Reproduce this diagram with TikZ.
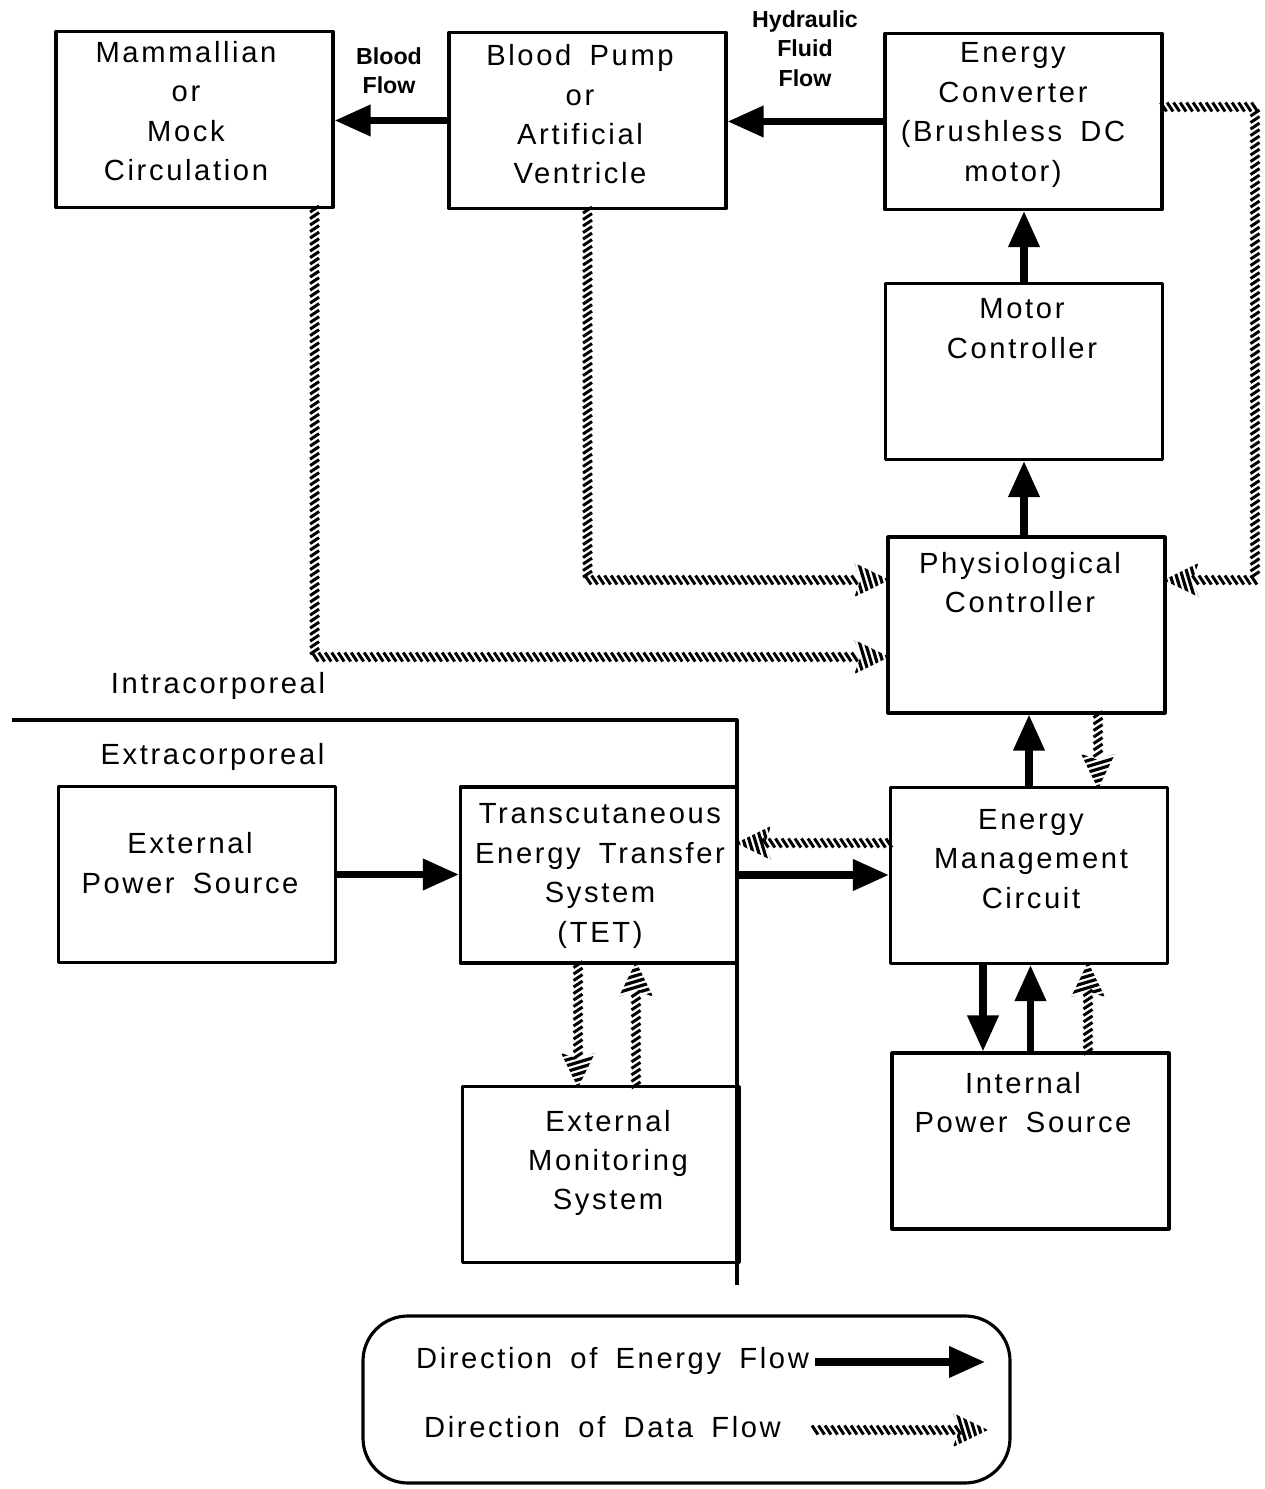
\documentclass[tikz,border=0pt]{standalone}
\usepackage{fontspec}
\setmainfont{Liberation Sans}[LetterSpace=9,WordSpace=1.7]
\newfontfamily\tagfont{Liberation Sans}
\usetikzlibrary{arrows.meta,decorations.markings}

\newcommand{\datahead}{%
  \begin{scope}
    \clip (0.03,0) -- (-0.32,0.17) -- (-0.26,0) -- (-0.32,-0.17) -- cycle;
    \foreach \k in {0,...,9}
      \draw[line width=0.9pt] (-0.46+\k*0.058,0.2) -- (-0.34+\k*0.058,-0.2);
  \end{scope}}

\tikzset{
  box/.style={draw,line width=0.9pt,minimum width=2.77cm,
    minimum height=1.76cm,inner sep=0pt},
  txt/.style={align=center,font=\fontsize{8.3}{11.2}\selectfont},
  tag/.style={align=center,font=\tagfont\bfseries\fontsize{6.6}{8.4}\selectfont},
  energy/.style={line width=2pt,-{Triangle[length=3.6mm,width=3mm]}},
  data/.style={decorate,decoration={markings,
      mark=between positions 0 and -0.26cm step 0.065cm with
        {\draw[line width=0.85pt] (-0.03,0.045) -- (0.03,-0.045);},
      mark=at position 1 with {\datahead}}}
}

\begin{document}
\begin{tikzpicture}[x=1cm,y=1cm,line join=round]
        \useasboundingbox (0,0) rectangle (12.65,14.89);

        % Bloques del sistema
        \node[box] (mock)  at (1.945,13.695) {};
        \node[box] (pump)  at (5.875,13.685) {};
        \node[box] (conv)  at (10.235,13.675) {};
        \node[box] (motor) at (10.24,11.175) {};
        \node[box] (phys)  at (10.265,8.64) {};
        \node[box] (emc)   at (10.29,6.135) {};
        \node[box] (intps) at (10.305,3.48) {};
        \node[box] (extps) at (1.97,6.145) {};
        \node[box] (tet)   at (5.99,6.14) {};
        \node[box] (mon)   at (6.01,3.145) {};

        % Textos de los bloques
        \node[txt] (tMock) at (1.86,13.78) {Mammallian\\or\\Mock\\Circulation};
        \node[txt] (tPump) at (5.80,13.745) {Blood Pump\\or\\Artificial\\Ventricle};
        \node[txt] (tConv) at (10.13,13.74)
            {Energy\\Converter\\(Brushless DC\\motor)};
        \node[txt] (tMotor) at (10.22,11.605) {Motor\\Controller};
        \node[txt] (tPhys) at (10.20,9.065) {Physiological\\Controller};
        \node[txt] (tEmc) at (10.31,6.30) {Energy\\Management\\Circuit};
        \node[txt] (tIntps) at (10.23,3.865) {Internal\\Power Source};
        \node[txt] (tExtps) at (1.90,6.26) {External\\Power Source};
        \node[txt] (tTet) at (6.00,6.13)
            {Transcutaneous\\Energy Transfer\\System\\(TET)};
        \node[txt] (tMon) at (6.08,3.26) {External\\Monitoring\\System};

        % Etiquetas de flujo y zonas
        \node[tag] (tBlood) at (3.89,14.185) {Blood\\Flow};
        \node[tag] (tFluid) at (8.05,14.405) {Hydraulic\\Fluid\\Flow};
        \node[txt] (tIntra) at (2.18,8.03) {Intracorporeal};
        \node[txt] (tExtra) at (2.125,7.32) {Extracorporeal};

        % Frontera intra/extracorporea
        \coordinate (bndL) at (0.12,7.69);
        \coordinate (bndC) at (7.37,7.69);
        \coordinate (bndB) at (7.37,2.04);
        \draw[line width=0.9pt] (bndL) -- (bndC) -- (bndB);

        % Flujo de energia
        \draw[energy] (pump.west) -- (pump.west -| mock.east);
        \draw[energy] (conv.west) -- (conv.west -| pump.east);
        \draw[energy] (motor.north) -- (motor.north |- conv.south);
        \draw[energy] (phys.north -| motor.south) -- (motor.south);
        \draw[energy] (emc.north) -- (emc.north |- phys.south);
        \draw[energy] (extps.east) -- (extps.east -| tet.west);
        \draw[energy] (tet.east) -- (tet.east -| emc.west);
        \draw[energy] ([xshift=-0.46cm]emc.south)
            -- ([xshift=-0.46cm]emc.south |- intps.north);
        \draw[energy] (intps.north) -- (intps.north |- emc.south);

        % Flujo de datos
        \coordinate (loopR) at (12.55,9.09);
        \path[data] (pump.south) |- ([yshift=0.45cm]phys.west);
        \path[data] ([xshift=-0.2cm]mock.south east)
            |- ([yshift=-0.32cm]phys.west);
        \path[data] ([yshift=0.145cm]conv.east) -| (loopR)
            -- ([yshift=0.45cm]phys.east);
        \path[data] ([xshift=0.715cm]phys.south)
            -- ([xshift=0.715cm]phys.south |- emc.north);
        \path[data] ([yshift=0.325cm]emc.west)
            -- ([yshift=0.325cm]emc.west -| tet.east);
        \path[data] ([xshift=-0.21cm]tet.south)
            -- ([xshift=-0.21cm]tet.south |- mon.north);
        \path[data] ([xshift=0.35cm]mon.north)
            -- ([xshift=0.35cm]mon.north |- tet.south);
        \path[data] ([xshift=0.575cm]intps.north)
            -- ([xshift=0.575cm]intps.north |- emc.south);

        % Leyenda
        \node[draw,line width=0.9pt,rounded corners=0.45cm,minimum width=6.47cm,
            minimum height=1.67cm] (legend) at (6.865,0.895) {};
        \node[txt] (tEnergy) at (6.125,1.28) {Direction of Energy Flow};
        \node[txt] (tData) at (6.025,0.62) {Direction of Data Flow};
        \coordinate (eS) at (8.15,1.27);
        \coordinate (eE) at (9.85,1.27);
        \coordinate (dS) at (8.15,0.59);
        \coordinate (dE) at (9.85,0.59);
        \draw[energy] (eS) -- (eE);
        \path[data] (dS) -- (dE);
\end{tikzpicture}
\end{document}
